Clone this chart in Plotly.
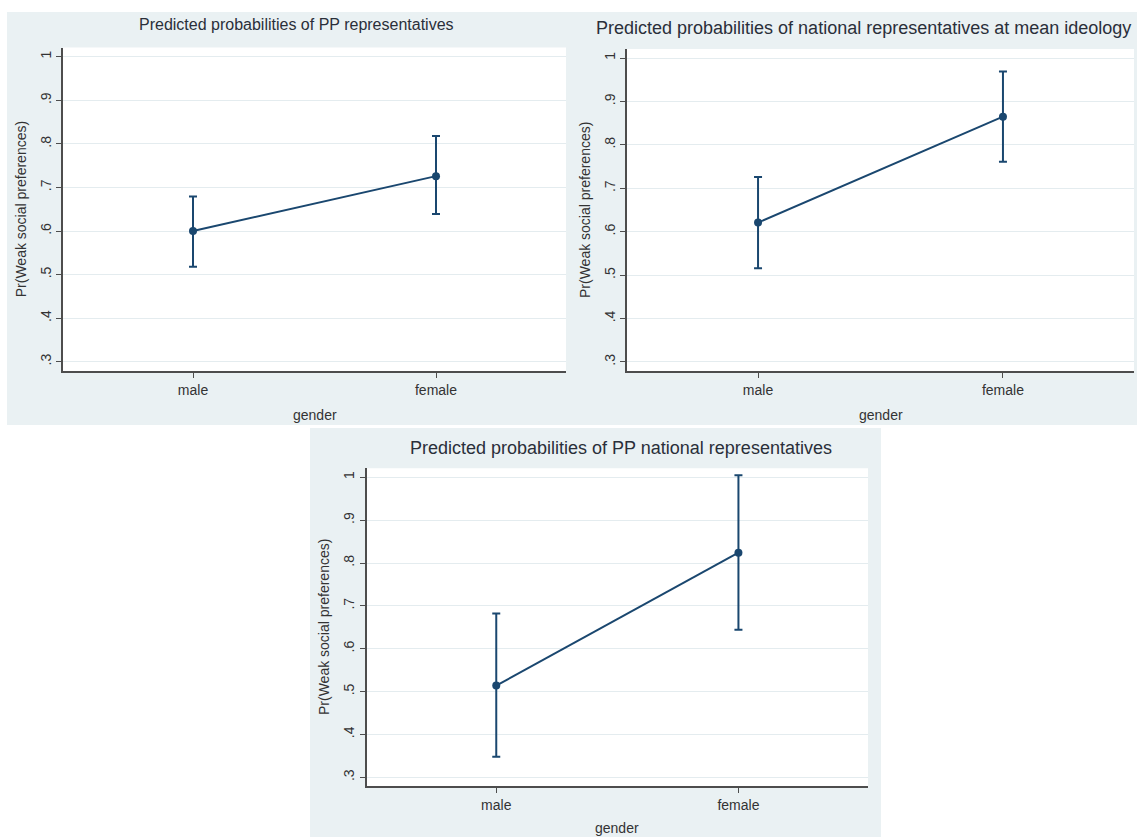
import plotly.graph_objects as go

W, H = 1137, 837

# ---------------- data ----------------
categories = ["male", "female"]
cat_pos = [0, 1]

panel_titles = [
    "Predicted probabilities of PP representatives",
    "Predicted probabilities of national representatives at mean ideology",
    "Predicted probabilities of PP national representatives",
]
x_title = "gender"
y_title = "Pr(Weak social preferences)"

pp_est = [0.600, 0.726]
pp_lo = [0.518, 0.639]
pp_hi = [0.679, 0.818]

nat_est = [0.621, 0.865]
nat_lo = [0.516, 0.761]
nat_hi = [0.726, 0.969]

ppnat_est = [0.514, 0.824]
ppnat_lo = [0.348, 0.644]
ppnat_hi = [0.682, 1.005]

y_tickvals = [0.3, 0.4, 0.5, 0.6, 0.7, 0.8, 0.9, 1.0]
y_ticktext = [".3", ".4", ".5", ".6", ".7", ".8", ".9", "1"]

series = [(pp_est, pp_lo, pp_hi), (nat_est, nat_lo, nat_hi), (ppnat_est, ppnat_lo, ppnat_hi)]

# ---------------- layout geometry (pixels) ----------------
# plot box: x0, x1, ytop, ybottom ; bg box: x0, x1, y0, y1 ; title: cx, cy, size ; xtitle y
panels = [
    dict(plot=(63, 566, 47.6, 370.9), bg=(7, 577, 12, 425), title=(296, 25, 16), xt=415),
    dict(plot=(627, 1134, 48.9, 371.1), bg=(566, 1137, 12, 425), title=(863, 28, 18), xt=415),
    dict(plot=(366.7, 868, 468.3, 786.3), bg=(310, 881, 428, 837), title=(621, 448, 18), xt=828),
]

NAVY = "#1a476f"
BG = "#eaf1f3"
GRID = "#e4ecef"
AXIS = "#4d4d4d"
TXT = "#333333"
TITLE_C = "#2a2f3a"
FONT = "Liberation Sans, Arial, sans-serif"

def px_x(x):
    return x / W

def px_y(y):
    return 1 - y / H

fig = go.Figure()
shapes = []
annotations = []
layout_axes = {}

# background panels first, then white plot areas
for p in panels:
    x0, x1, y0, y1 = p["bg"]
    shapes.append(dict(type="rect", xref="paper", yref="paper", layer="below",
                       x0=px_x(x0), x1=px_x(x1), y0=px_y(y1), y1=px_y(y0),
                       fillcolor=BG, line=dict(width=0)))
for p in panels:
    x0, x1, yt, yb = p["plot"]
    shapes.append(dict(type="rect", xref="paper", yref="paper", layer="below",
                       x0=px_x(x0), x1=px_x(x1), y0=px_y(yb), y1=px_y(yt),
                       fillcolor="white", line=dict(width=0)))

for i, (p, (est, lo, hi)) in enumerate(zip(panels, series)):
    k = "" if i == 0 else str(i + 1)
    x0, x1, yt, yb = p["plot"]
    err_plus = [h - e for h, e in zip(hi, est)]
    err_minus = [e - l for e, l in zip(est, lo)]
    fig.add_trace(go.Scatter(
        x=cat_pos, y=est, mode="lines+markers",
        line=dict(color=NAVY, width=2),
        marker=dict(color=NAVY, size=8),
        error_y=dict(type="data", symmetric=False, array=err_plus, arrayminus=err_minus,
                     color=NAVY, thickness=2, width=4),
        xaxis="x" + k, yaxis="y" + k, showlegend=False, hoverinfo="skip",
    ))
    layout_axes["xaxis" + k] = dict(
        domain=[px_x(x0), px_x(x1)], range=[-0.535, 1.535], anchor="y" + k,
        tickvals=cat_pos, ticktext=categories, ticks="outside", ticklen=5,
        tickcolor=AXIS, tickwidth=1.2, showline=True, linecolor=AXIS, linewidth=1.6,
        showgrid=False, zeroline=False, fixedrange=True,
        tickfont=dict(family=FONT, size=14, color=TXT),
    )
    layout_axes["yaxis" + k] = dict(
        domain=[px_y(yb), px_y(yt)], range=[0.279, 1.021], anchor="x" + k,
        tickvals=y_tickvals, ticktext=y_ticktext, ticks="outside", ticklen=5,
        tickcolor=AXIS, tickwidth=1.2, showline=True, linecolor=AXIS, linewidth=1.6,
        showgrid=True, gridcolor=GRID, gridwidth=1, zeroline=False, fixedrange=True,
        tickangle=-90, tickfont=dict(family=FONT, size=14, color=TXT),
    )
    cx, cy, fs = p["title"]
    annotations.append(dict(text=panel_titles[i], xref="paper", yref="paper",
                            x=px_x(cx), y=px_y(cy), xanchor="center", yanchor="middle",
                            showarrow=False, font=dict(family=FONT, size=fs, color=TITLE_C)))
    # x axis title
    annotations.append(dict(text=x_title, xref="paper", yref="paper",
                            x=px_x((x0 + x1) / 2), y=px_y(p["xt"]), xanchor="center",
                            yanchor="middle", showarrow=False,
                            font=dict(family=FONT, size=14, color=TXT)))
    # y axis title
    annotations.append(dict(text=y_title, xref="paper", yref="paper", textangle=-90,
                            x=px_x(x0 - 42), y=px_y((yt + yb) / 2), xanchor="center",
                            yanchor="middle", showarrow=False,
                            font=dict(family=FONT, size=14, color=TXT)))

fig.update_layout(
    width=W, height=H, autosize=False,
    margin=dict(l=0, r=0, t=0, b=0),
    paper_bgcolor="white", plot_bgcolor="rgba(0,0,0,0)",
    shapes=shapes, annotations=annotations,
    font=dict(family=FONT),
    **layout_axes,
)

fig.write_html(
    "out.html",
    config={"displayModeBar": False},
    post_script="document.body.style.margin='0px';document.body.style.overflow='hidden';",
)
